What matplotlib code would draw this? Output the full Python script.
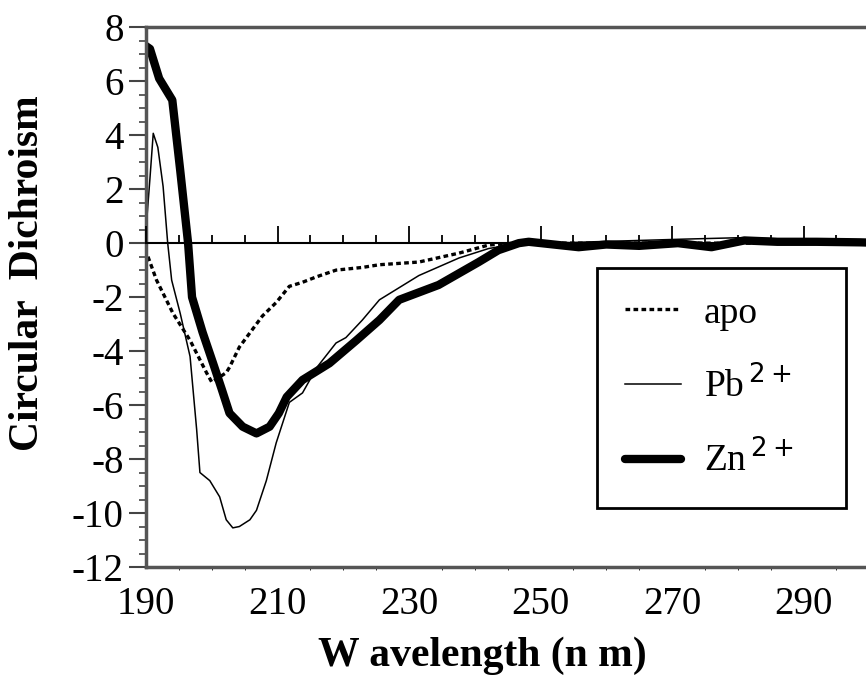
import numpy as np
import matplotlib.pyplot as plt
from matplotlib.ticker import MultipleLocator

# Values (wavelength in nm, CD signal)
zn_nm = [190, 190.6, 192, 194, 195.2, 196.4, 197.0, 198.6, 200.2, 201.5, 202.7,
         204.7, 206.8, 208.8, 210.2, 211.4, 213.8, 217.9, 222, 225.5, 228.5,
         234.5, 240.6, 243.6, 246.7, 248.2, 252, 255.8, 260, 265, 270.9, 276,
         281, 286, 292, 298.6, 300]
zn_cd = [7.3, 7.2, 6.1, 5.3, 2.7, 0.0, -2.0, -3.3, -4.45, -5.4, -6.3,
         -6.8, -7.05, -6.8, -6.3, -5.7, -5.07, -4.45, -3.6, -2.85, -2.1,
         -1.55, -0.7, -0.26, 0.0, 0.05, -0.05, -0.15, -0.05, -0.1, 0.0, -0.15,
         0.1, 0.05, 0.05, 0.03, 0.02]

pb_nm = [190, 190.6, 191.1, 191.8, 192.6, 193.3, 193.9, 195.2, 196.7, 197.7,
         198.2, 199.7, 201.2, 202.2, 203.2, 204.2, 205.8, 206.8, 208.3, 209.8,
         211.8, 213.8, 216, 218.9, 220.4, 222.9, 225.5, 231.5, 237.6, 242.1,
         247, 252, 258, 265, 272, 280, 288, 294, 300]
pb_cd = [0.5, 2.4, 4.07, 3.55, 2.1, 0.0, -1.37, -2.6, -4.2, -6.9,
         -8.5, -8.8, -9.4, -10.25, -10.55, -10.5, -10.25, -9.9, -8.8, -7.4,
         -5.9, -5.55, -4.6, -3.7, -3.5, -2.85, -2.1, -1.2, -0.55, -0.2,
         0.0, 0.0, 0.05, 0.1, 0.15, 0.2, 0.15, 0.05, 0.0]

apo_nm = [190.3, 191.6, 194.1, 196.7, 199.2, 200.0, 202.2, 202.7, 204.2,
          207.7, 209.8, 211.8, 213.8, 215.9, 218.9, 222.9, 225.5, 231.5,
          237.6, 242.1, 246, 252, 260, 270, 280, 290, 300]
apo_cd = [-0.5, -1.37, -2.6, -3.6, -4.8, -5.15, -4.8, -4.6, -3.85,
          -2.7, -2.2, -1.6, -1.45, -1.25, -1.0, -0.9, -0.8, -0.7,
          -0.37, -0.07, 0.0, 0.0, 0.0, 0.0, 0.0, 0.0, 0.0]

x_ticks = [190, 210, 230, 250, 270, 290]
y_ticks = [8, 6, 4, 2, 0, -2, -4, -6, -8, -10, -12]

plt.rcParams['font.family'] = ['Liberation Serif', 'DejaVu Serif']
plt.rcParams['axes.unicode_minus'] = False

fig = plt.figure(figsize=(8.66, 6.81), dpi=100)
ax = fig.add_axes([0.1686, 0.1674, 0.8314, 0.7926])

ax.plot(apo_nm, apo_cd, color='black', lw=2.4, dashes=(1.4, 1.0), label='apo')
ax.plot(pb_nm, pb_cd, color='black', lw=1.1, label='Pb$^{\\,2+}$')
ax.plot(zn_nm, zn_cd, color='black', lw=6, solid_capstyle='round',
        solid_joinstyle='round', label='Zn$^{\\,2+}$')

ax.set_xlim(190, 299.5)
ax.set_ylim(-12, 8)
ax.set_xticks(x_ticks)
ax.set_yticks(y_ticks)
ax.yaxis.set_minor_locator(MultipleLocator(0.5))
ax.tick_params(axis='x', length=0, pad=14, labelsize=28)
ax.tick_params(axis='y', which='major', length=12, width=1.5, direction='out',
               pad=4, labelsize=28, color='#444444')
ax.tick_params(axis='y', which='minor', length=5, width=1.2, direction='out',
               color='#444444')

for side in ['left', 'top', 'bottom']:
    ax.spines[side].set_color('#555555')
    ax.spines[side].set_linewidth(2.5)
ax.spines['right'].set_visible(False)

# zero line with wavelength ticks pointing up (overlay axes)
zax = fig.add_axes(ax.get_position(), sharex=ax)
zax.set_ylim(-12, 8)
zax.patch.set_visible(False)
for side in ['left', 'right', 'top']:
    zax.spines[side].set_visible(False)
zax.spines['bottom'].set_position(('data', 0))
zax.spines['bottom'].set_linewidth(1.5)
zax.set_yticks([])
zax.xaxis.set_minor_locator(MultipleLocator(5))
zax.tick_params(axis='x', which='major', length=12, width=1.3, direction='in',
                labelbottom=False)
zax.tick_params(axis='x', which='minor', length=6, width=1.3, direction='in')

ax.set_xlabel('W avelength (n m)', fontsize=30, fontweight='bold')
ax.xaxis.set_label_coords(0.467, -0.128)
ax.set_ylabel('Circular  Dichroism', fontsize=30, fontweight='bold')
ax.yaxis.set_label_coords(-0.138, 0.545)

leg = zax.legend(*ax.get_legend_handles_labels(), loc='upper left',
                 bbox_to_anchor=(0.626, 0.106, 0.346, 0.448), mode='expand',
                 borderaxespad=0, fontsize=27, frameon=True, fancybox=False,
                 framealpha=1, edgecolor='black', handlelength=1.5,
                 labelspacing=0.95, borderpad=0.75, handletextpad=0.6)
leg.get_frame().set_linewidth(2)

fig.savefig('out.png', dpi=100)
